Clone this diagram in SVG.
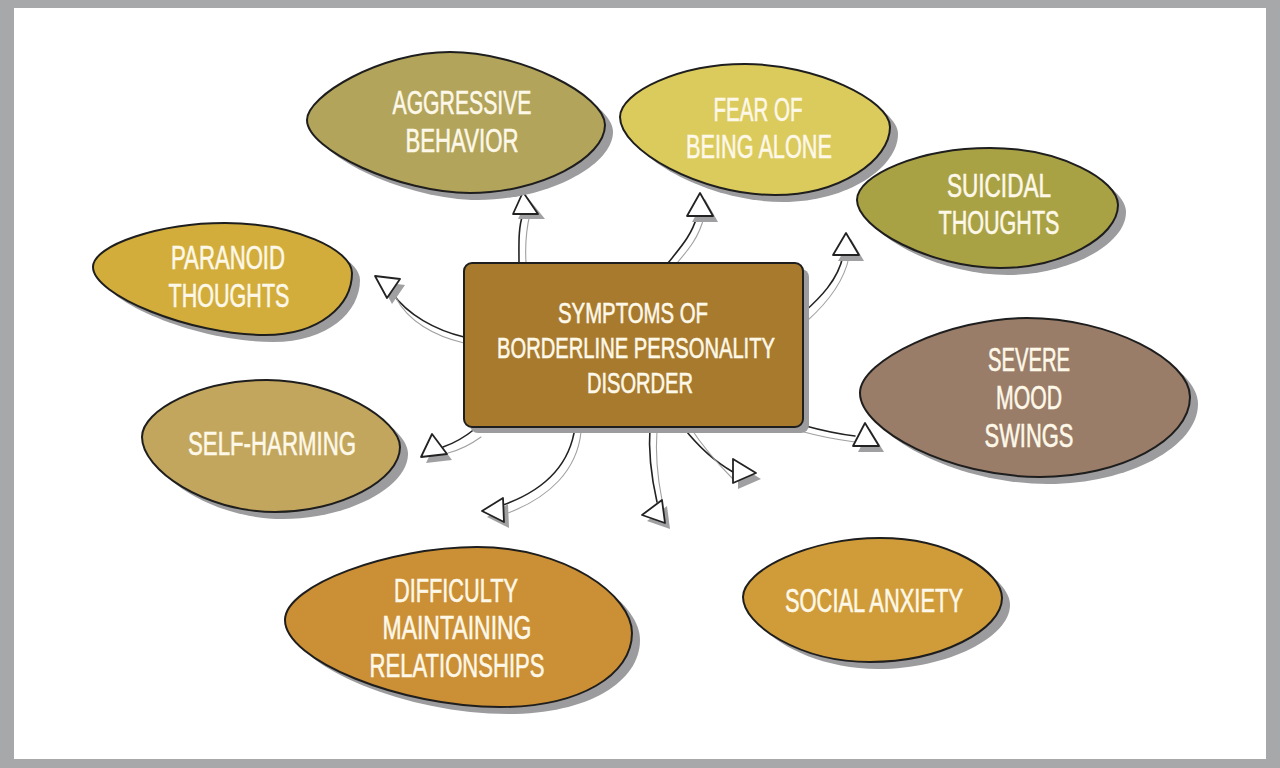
<svg xmlns="http://www.w3.org/2000/svg" width="1280" height="768" viewBox="0 0 1280 768">
<style>
.blob{stroke:#1e1e1e;stroke-width:2}
.shadow{fill:#9c9c9e}
.t{font-family:"Liberation Sans Narrow","Liberation Sans",Arial,sans-serif;font-size:33px;fill:#fdf8e8;stroke:#fdf8e8;stroke-width:0.6;text-anchor:middle}
.tc{font-size:29px}
.sb{fill:none;stroke:#222;stroke-width:1.6;stroke-linecap:round}
.sg{fill:none;stroke:#a0a0a0;stroke-width:1.1;stroke-linecap:round}
.head{fill:#fff;stroke:#222;stroke-width:1.8;stroke-linejoin:round}
.hs{fill:#a0a0a2}
</style>
<rect x="0" y="0" width="1280" height="768" fill="#a7a8aa"/>
<rect x="14" y="8" width="1252" height="751" fill="#ffffff"/>

<g id="connectors">
  <g id="c-aggressive">
    <path class="sb" d="M519,263 C519,245 518,228 523,214"/>
    <path class="sg" d="M526,263 C525,245 526,230 530,214"/>
    <polygon class="hs" points="528,198 518,219 545,219"/>
    <polygon class="head" points="523,192 513,214 538,214"/>
  </g>
  <g id="c-fear">
    <path class="sb" d="M668,263 C680,248 692,235 697,216"/>
    <path class="sg" d="M677,263 C689,249 699,237 704,217"/>
    <polygon class="hs" points="705,199 692,222 718,222"/>
    <polygon class="head" points="700,193 687,216 713,216"/>
  </g>
  <g id="c-suicidal">
    <path class="sb" d="M803,313 C820,298 838,280 843,256"/>
    <path class="sg" d="M807,321 C826,304 844,282 849,257"/>
    <polygon class="hs" points="851,239 838,261 864,261"/>
    <polygon class="head" points="846,233 833,255 859,255"/>
  </g>
  <g id="c-severe">
    <path class="sb" d="M802,425 C820,430 838,434 855,436"/>
    <path class="sg" d="M804,432 C822,437 840,440 855,442"/>
    <polygon class="hs" points="870,429 858,452 884,452"/>
    <polygon class="head" points="865,423 853,446 879,446"/>
  </g>
  <g id="c-paranoid">
    <path class="sb" d="M464,337 C435,330 408,315 392,293"/>
    <path class="sg" d="M464,343 C434,336 408,321 396,298"/>
    <polygon class="hs" points="380,282 405,285 392,304"/>
    <polygon class="head" points="375,276 400,279 387,298"/>
  </g>
  <g id="c-selfharm">
    <path class="sb" d="M476,428 C465,437 455,443 443,447"/>
    <path class="sg" d="M481,437 C470,445 460,450 448,453"/>
    <polygon class="hs" points="437,440 426,463 452,460"/>
    <polygon class="head" points="432,434 421,457 447,454"/>
  </g>
  <g id="c-difficulty">
    <path class="sb" d="M575,427 C570,465 545,490 503,505"/>
    <path class="sg" d="M581,432 C577,470 550,497 508,513"/>
    <polygon class="hs" points="487,517 508,504 509,528"/>
    <polygon class="head" points="482,511 503,498 504,522"/>
  </g>
  <g id="c-down">
    <path class="sb" d="M650,427 C648,455 652,480 657,502"/>
    <path class="sg" d="M657,430 C655,458 658,480 662,500"/>
    <polygon class="hs" points="647,521 667,506 670,529"/>
    <polygon class="head" points="642,515 662,500 665,523"/>
  </g>
  <g id="c-social">
    <path class="sb" d="M683,427 C697,445 712,460 733,472"/>
    <path class="sg" d="M690,427 C703,447 716,462 733,479"/>
    <polygon class="hs" points="738,465 761,479 738,489"/>
    <polygon class="head" points="733,459 756,473 733,483"/>
  </g>
</g>

<g id="node-aggressive">
  <path class="shadow" transform="translate(8,7)" d="M307,120 C307,96 380,52 450,52 C520,52 605,95 605,125 C605,158 540,193 470,193 C400,193 307,150 307,120 Z"/>
  <path class="blob" fill="#b2a45b" d="M307,120 C307,96 380,52 450,52 C520,52 605,95 605,125 C605,158 540,193 470,193 C400,193 307,150 307,120 Z"/>
  <text class="t" x="462" y="114" textLength="139" lengthAdjust="spacingAndGlyphs">AGGRESSIVE</text>
  <text class="t" x="462" y="152" textLength="113" lengthAdjust="spacingAndGlyphs">BEHAVIOR</text>
</g>

<g id="node-fear">
  <path class="shadow" transform="translate(8,7)" d="M620,117 C620,92 680,64 745,64 C815,64 890,100 890,127 C890,160 840,195 775,195 C700,195 620,150 620,117 Z"/>
  <path class="blob" fill="#dbca5c" d="M620,117 C620,92 680,64 745,64 C815,64 890,100 890,127 C890,160 840,195 775,195 C700,195 620,150 620,117 Z"/>
  <text class="t" x="758" y="121" textLength="89" lengthAdjust="spacingAndGlyphs">FEAR OF</text>
  <text class="t" x="759" y="158" textLength="146" lengthAdjust="spacingAndGlyphs">BEING ALONE</text>
</g>

<g id="node-suicidal">
  <path class="shadow" transform="translate(8,7)" d="M857,200 C857,175 920,148 990,148 C1060,148 1118,180 1118,205 C1118,238 1060,268 1000,268 C930,268 857,228 857,200 Z"/>
  <path class="blob" fill="#a9a245" d="M857,200 C857,175 920,148 990,148 C1060,148 1118,180 1118,205 C1118,238 1060,268 1000,268 C930,268 857,228 857,200 Z"/>
  <text class="t" x="999" y="197" textLength="104" lengthAdjust="spacingAndGlyphs">SUICIDAL</text>
  <text class="t" x="999" y="234" textLength="121" lengthAdjust="spacingAndGlyphs">THOUGHTS</text>
</g>

<g id="node-paranoid">
  <path class="shadow" transform="translate(8,7)" d="M93,267 C93,245 160,223 225,223 C295,223 352,250 352,273 C352,305 320,335 265,335 C190,335 93,295 93,267 Z"/>
  <path class="blob" fill="#d2ad3c" d="M93,267 C93,245 160,223 225,223 C295,223 352,250 352,273 C352,305 320,335 265,335 C190,335 93,295 93,267 Z"/>
  <text class="t" x="228" y="269" textLength="114" lengthAdjust="spacingAndGlyphs">PARANOID</text>
  <text class="t" x="229" y="307" textLength="121" lengthAdjust="spacingAndGlyphs">THOUGHTS</text>
</g>

<g id="node-selfharm">
  <path class="shadow" transform="translate(8,7)" d="M142,437 C142,410 200,380 267,380 C335,380 400,420 400,447 C400,480 340,512 275,512 C205,512 142,470 142,437 Z"/>
  <path class="blob" fill="#c2a65d" d="M142,437 C142,410 200,380 267,380 C335,380 400,420 400,447 C400,480 340,512 275,512 C205,512 142,470 142,437 Z"/>
  <text class="t" x="272" y="455" textLength="168" lengthAdjust="spacingAndGlyphs">SELF-HARMING</text>
</g>

<g id="node-center">
  <rect class="shadow" x="470" y="269" width="339" height="164" rx="8"/>
  <rect class="blob" fill="#a87a2e" x="464" y="263" width="339" height="164" rx="8"/>
  <text class="t tc" x="633" y="323" textLength="150" lengthAdjust="spacingAndGlyphs">SYMPTOMS OF</text>
  <text class="t tc" x="636" y="358" textLength="278" lengthAdjust="spacingAndGlyphs">BORDERLINE PERSONALITY</text>
  <text class="t tc" x="640" y="393" textLength="106" lengthAdjust="spacingAndGlyphs">DISORDER</text>
</g>

<g id="node-severe">
  <path class="shadow" transform="translate(8,7)" d="M860,393 C860,360 950,318 1027,318 C1110,318 1190,360 1190,397 C1190,440 1120,477 1040,477 C950,477 860,430 860,393 Z"/>
  <path class="blob" fill="#9a7d69" d="M860,393 C860,360 950,318 1027,318 C1110,318 1190,360 1190,397 C1190,440 1120,477 1040,477 C950,477 860,430 860,393 Z"/>
  <text class="t" x="1029" y="371" textLength="82" lengthAdjust="spacingAndGlyphs">SEVERE</text>
  <text class="t" x="1029" y="409" textLength="66" lengthAdjust="spacingAndGlyphs">MOOD</text>
  <text class="t" x="1029" y="447" textLength="89" lengthAdjust="spacingAndGlyphs">SWINGS</text>
</g>

<g id="node-difficulty">
  <path class="shadow" transform="translate(8,7)" d="M285,620 C285,585 390,547 477,547 C565,547 632,595 632,633 C632,675 580,707 500,707 C400,707 285,660 285,620 Z"/>
  <path class="blob" fill="#cb8f35" d="M285,620 C285,585 390,547 477,547 C565,547 632,595 632,633 C632,675 580,707 500,707 C400,707 285,660 285,620 Z"/>
  <text class="t" x="456" y="602" textLength="124" lengthAdjust="spacingAndGlyphs">DIFFICULTY</text>
  <text class="t" x="457" y="639" textLength="149" lengthAdjust="spacingAndGlyphs">MAINTAINING</text>
  <text class="t" x="457" y="677" textLength="175" lengthAdjust="spacingAndGlyphs">RELATIONSHIPS</text>
</g>

<g id="node-social">
  <path class="shadow" transform="translate(8,7)" d="M743,597 C743,570 810,538 880,538 C950,538 1002,572 1002,598 C1002,630 940,662 870,662 C800,662 743,625 743,597 Z"/>
  <path class="blob" fill="#d09c39" d="M743,597 C743,570 810,538 880,538 C950,538 1002,572 1002,598 C1002,630 940,662 870,662 C800,662 743,625 743,597 Z"/>
  <text class="t" x="874" y="612" textLength="178" lengthAdjust="spacingAndGlyphs">SOCIAL ANXIETY</text>
</g>
</svg>
